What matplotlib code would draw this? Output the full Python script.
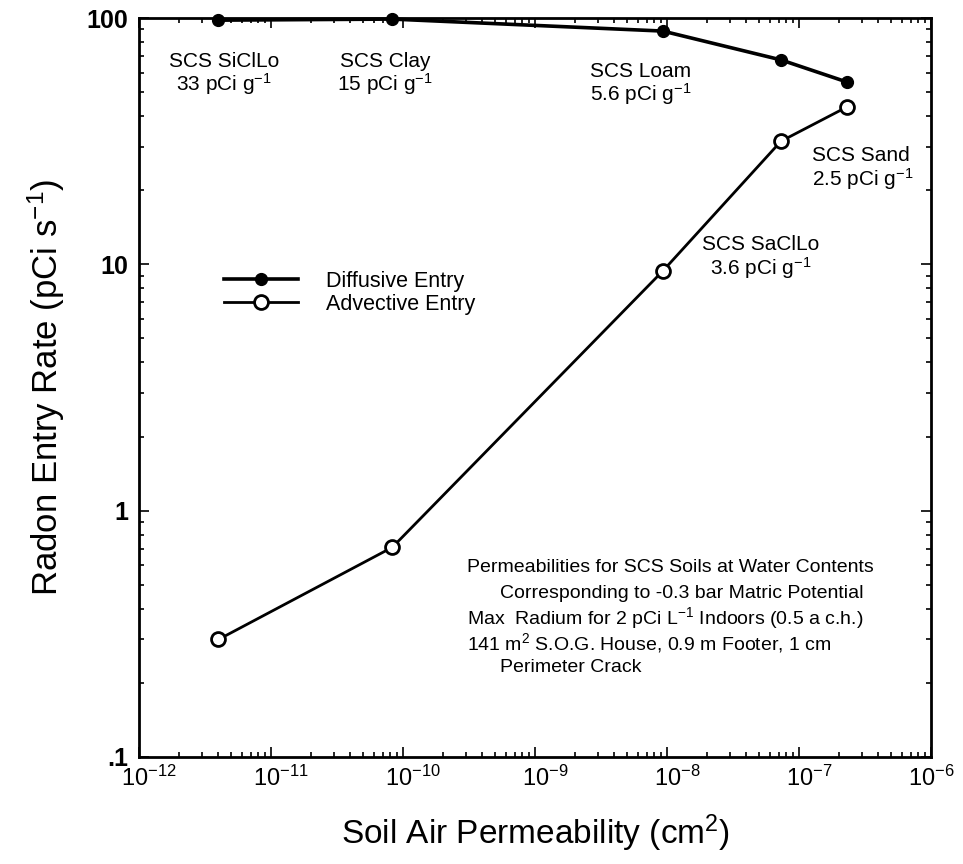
import matplotlib
matplotlib.use("Agg")
import matplotlib.pyplot as plt
import matplotlib.transforms as mtransforms
from matplotlib.ticker import LogLocator, NullFormatter

plt.rcParams['font.family'] = ['Liberation Sans', 'DejaVu Sans']
plt.rcParams['mathtext.fontset'] = 'custom'
plt.rcParams['mathtext.rm'] = 'Liberation Sans'
plt.rcParams['mathtext.it'] = 'Liberation Sans:italic'

# Data
soils = ["SCS SiClLo", "SCS Clay", "SCS Loam", "SCS SaClLo", "SCS Sand"]
permeability = [4.0e-12, 8.3e-11, 9.3e-9, 7.3e-8, 2.3e-7]
diffusive = [98, 99, 88.5, 67.6, 55]
advective = [0.30, 0.71, 9.4, 31.6, 43.5]
radium = ["33", "15", "5.6", "3.6", "2.5"]

x_ticks = [1e-12, 1e-11, 1e-10, 1e-9, 1e-8, 1e-7, 1e-6]
x_tick_labels = ["10$^{-12}$", "10$^{-11}$", "10$^{-10}$", "10$^{-9}$",
                 "10$^{-8}$", "10$^{-7}$", "10$^{-6}$"]
y_ticks = [0.1, 1, 10, 100]
y_tick_labels = [".1", "1", "10", "100"]

notes = [
    "Permeabilities for SCS Soils at Water Contents",
    "Corresponding to -0.3 bar Matric Potential",
    "Max  Radium for 2 pCi L$^{-1}$ Indoors (0.5 a c.h.)",
    "141 m$^{2}$ S.O.G. House, 0.9 m Footer, 1 cm",
    "Perimeter Crack",
]

W, H = 963, 864
fig = plt.figure(figsize=(W/100, H/100), dpi=100)
ax = fig.add_axes([139/W, 1-757/H, (931-139)/W, (757-18)/H])

ax.plot(permeability, diffusive, '-o', color='black', lw=2.6, ms=8.5,
        mfc='black', mec='black', label='Diffusive Entry', clip_on=False, zorder=3)
ax.plot(permeability, advective, '-o', color='black', lw=2.0, ms=10,
        mfc='white', mec='black', mew=2.0, label='Advective Entry', clip_on=False, zorder=3)

ax.set_xscale('log')
ax.set_yscale('log')
ax.set_xlim(1e-12, 1e-6)
ax.set_ylim(0.1, 100)
ax.set_xticks(x_ticks)
ax.set_xticklabels(x_tick_labels)
ax.set_yticks(y_ticks)
ax.set_yticklabels(y_tick_labels)
ax.xaxis.set_minor_locator(LogLocator(base=10, subs=range(2, 10)))
ax.yaxis.set_minor_locator(LogLocator(base=10, subs=range(2, 10)))
ax.xaxis.set_minor_formatter(NullFormatter())
ax.yaxis.set_minor_formatter(NullFormatter())
ax.tick_params(which='both', direction='in', top=True, right=True, width=1.2)
ax.tick_params(which='major', length=7)
ax.tick_params(which='minor', length=3.5)
ax.tick_params(axis='x', labelsize=17, pad=6)
ax.tick_params(axis='y', labelsize=18, pad=8)
for lab in ax.get_yticklabels():
    lab.set_fontweight('bold')
for i, lab in enumerate(ax.get_xticklabels()):
    dx = 10 if i < len(x_tick_labels) - 1 else 0
    lab.set_transform(lab.get_transform() +
                      mtransforms.ScaledTranslation(dx/100, 0, fig.dpi_scale_trans))
for s in ax.spines.values():
    s.set_linewidth(2.0)

ax.set_xlabel("Soil Air Permeability (cm$^{2}$)", fontsize=24, labelpad=16)
ax.set_ylabel("Radon Entry Rate (pCi s$^{-1}$)", fontsize=25, labelpad=14)

fs = 15
def soil_label(i, x, y, ha):
    ax.text(x, y, soils[i] + "\n" + radium[i] + " pCi g$^{-1}$",
            ha=ha, va='center', multialignment=ha if ha != 'center' else 'center',
            fontsize=fs, linespacing=1.05)

soil_label(0, 4.4e-12, 59, 'center')
soil_label(1, 7.3e-11, 59, 'center')
soil_label(2, 2.6e-9, 53.7, 'left')
soil_label(3, 5.1e-8, 10.6, 'center')
soil_label(4, 1.25e-7, 24.4, 'left')

note_y = [568, 593, 618, 643, 667]
note_x = [467, 500, 467, 467, 500]
for t, xp, yp in zip(notes, note_x, note_y):
    ax.text((xp-139)/792, (757-yp)/739, t, transform=ax.transAxes,
            ha='left', va='center', fontsize=14)

ax.legend(loc='center left', bbox_to_anchor=(0.107, 0.628), frameon=False,
          fontsize=15.5, handlelength=3.45, handletextpad=1.3, labelspacing=0.1,
          borderpad=0, borderaxespad=0)

fig.savefig("out.png", dpi=100)
